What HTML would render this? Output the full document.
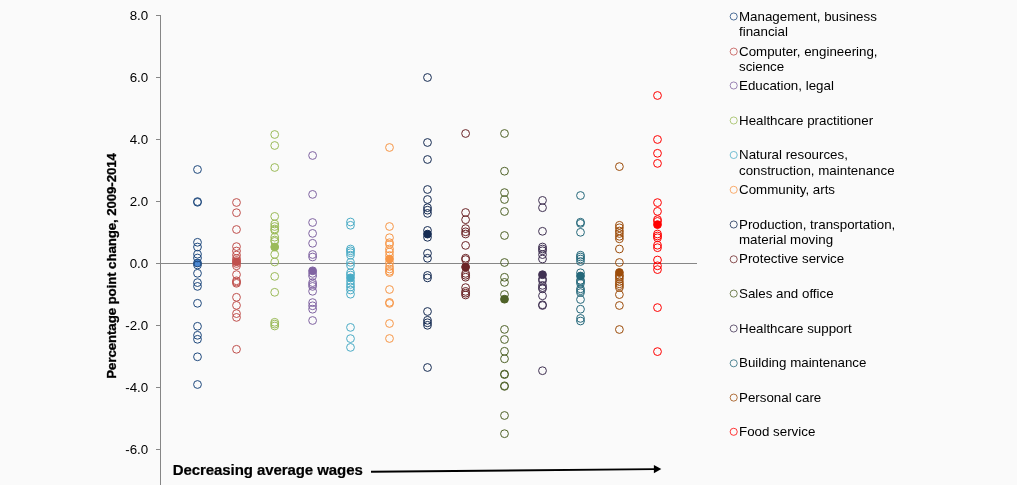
<!DOCTYPE html>
<html lang="en"><head><meta charset="utf-8"><title>Percentage point change, 2009-2014</title>
<style>html,body{margin:0;padding:0;background:#fafafa;}body{width:1017px;height:485px;overflow:hidden;}svg{display:block;}text{font-family:"Liberation Sans",sans-serif;fill:#000;}.t{font-size:13.33px;}.b{font-weight:bold;}</style></head><body>
<svg width="1017" height="485" viewBox="0 0 1017 485">
<rect width="1017" height="485" fill="#fafafa"/>
<g stroke="#868686" stroke-width="1" fill="none" shape-rendering="crispEdges">
<line x1="160.5" y1="15" x2="160.5" y2="485"/>
<line x1="156" y1="15.5" x2="161" y2="15.5"/>
<line x1="156" y1="77.5" x2="161" y2="77.5"/>
<line x1="156" y1="139.5" x2="161" y2="139.5"/>
<line x1="156" y1="201.5" x2="161" y2="201.5"/>
<line x1="156" y1="263.5" x2="161" y2="263.5"/>
<line x1="156" y1="325.5" x2="161" y2="325.5"/>
<line x1="156" y1="387.5" x2="161" y2="387.5"/>
<line x1="156" y1="449.5" x2="161" y2="449.5"/>
<line x1="160" y1="263.5" x2="697" y2="263.5"/>
</g>
<g class="t" text-anchor="end">
<text x="148.2" y="19.5">8.0</text>
<text x="148.2" y="81.5">6.0</text>
<text x="148.2" y="143.5">4.0</text>
<text x="148.2" y="205.5">2.0</text>
<text x="148.2" y="267.5">0.0</text>
<text x="148.2" y="329.5">-2.0</text>
<text x="148.2" y="391.5">-4.0</text>
<text x="148.2" y="453.5">-6.0</text>
</g>
<text class="t b" style="letter-spacing:-0.12px" stroke="#000" stroke-width="0.3" transform="translate(116.0,378.7) rotate(-90)">Percentage point change, 2009-2014</text>
<text class="b" x="172.8" y="474.9" stroke="#000" stroke-width="0.2" style="font-size:15px;letter-spacing:-0.08px">Decreasing average wages</text>
<line x1="371" y1="471.7" x2="655" y2="469.15" stroke="#000" stroke-width="1.9"/>
<polygon points="653.9,465 661.3,469.1 653.9,473.2" fill="#000"/>
<g fill="none" stroke="#1f497d" stroke-width="1.0">
<circle cx="197.5" cy="263.0" r="3.9" fill="#4c88d2"/>
<circle cx="197.5" cy="169.5" r="3.9"/>
<circle cx="197.5" cy="201.6" r="3.9"/>
<circle cx="197.5" cy="202.3" r="3.9"/>
<circle cx="197.5" cy="242.3" r="3.9"/>
<circle cx="197.5" cy="247.0" r="3.9"/>
<circle cx="197.5" cy="254.2" r="3.9"/>
<circle cx="197.5" cy="258.0" r="3.9"/>
<circle cx="197.5" cy="265.0" r="3.9"/>
<circle cx="197.5" cy="273.3" r="3.9"/>
<circle cx="197.5" cy="282.6" r="3.9"/>
<circle cx="197.5" cy="286.4" r="3.9"/>
<circle cx="197.5" cy="303.3" r="3.9"/>
<circle cx="197.5" cy="326.3" r="3.9"/>
<circle cx="197.5" cy="335.3" r="3.9"/>
<circle cx="197.5" cy="339.3" r="3.9"/>
<circle cx="197.5" cy="356.8" r="3.9"/>
<circle cx="197.5" cy="384.5" r="3.9"/>
</g>
<g fill="none" stroke="#c0504d" stroke-width="1.0">
<circle cx="236.5" cy="261.8" r="3.9" fill="#c0504d"/>
<circle cx="236.5" cy="202.5" r="3.9"/>
<circle cx="236.5" cy="212.7" r="3.9"/>
<circle cx="236.5" cy="229.5" r="3.9"/>
<circle cx="236.5" cy="246.6" r="3.9"/>
<circle cx="236.5" cy="251.0" r="3.9"/>
<circle cx="236.5" cy="255.1" r="3.9"/>
<circle cx="236.5" cy="258.5" r="3.9"/>
<circle cx="236.5" cy="260.5" r="3.9"/>
<circle cx="236.5" cy="263.5" r="3.9"/>
<circle cx="236.5" cy="265.8" r="3.9"/>
<circle cx="236.5" cy="274.6" r="3.9"/>
<circle cx="236.5" cy="280.8" r="3.9"/>
<circle cx="236.5" cy="282.1" r="3.9"/>
<circle cx="236.5" cy="283.3" r="3.9"/>
<circle cx="236.5" cy="297.3" r="3.9"/>
<circle cx="236.5" cy="305.4" r="3.9"/>
<circle cx="236.5" cy="313.6" r="3.9"/>
<circle cx="236.5" cy="317.4" r="3.9"/>
<circle cx="236.5" cy="349.3" r="3.9"/>
</g>
<g fill="none" stroke="#9bbb59" stroke-width="1.0">
<circle cx="274.7" cy="247.0" r="3.9" fill="#9bbb59"/>
<circle cx="274.7" cy="134.5" r="3.9"/>
<circle cx="274.7" cy="145.5" r="3.9"/>
<circle cx="274.7" cy="167.5" r="3.9"/>
<circle cx="274.7" cy="216.4" r="3.9"/>
<circle cx="274.7" cy="224.0" r="3.9"/>
<circle cx="274.7" cy="226.5" r="3.9"/>
<circle cx="274.7" cy="229.0" r="3.9"/>
<circle cx="274.7" cy="230.2" r="3.9"/>
<circle cx="274.7" cy="237.2" r="3.9"/>
<circle cx="274.7" cy="240.0" r="3.9"/>
<circle cx="274.7" cy="241.4" r="3.9"/>
<circle cx="274.7" cy="254.4" r="3.9"/>
<circle cx="274.7" cy="262.0" r="3.9"/>
<circle cx="274.7" cy="276.4" r="3.9"/>
<circle cx="274.7" cy="292.3" r="3.9"/>
<circle cx="274.7" cy="322.3" r="3.9"/>
<circle cx="274.7" cy="324.1" r="3.9"/>
<circle cx="274.7" cy="326.0" r="3.9"/>
</g>
<g fill="none" stroke="#8064a2" stroke-width="1.0">
<circle cx="312.6" cy="270.8" r="3.9" fill="#8064a2"/>
<circle cx="312.6" cy="155.5" r="3.9"/>
<circle cx="312.6" cy="194.4" r="3.9"/>
<circle cx="312.6" cy="222.5" r="3.9"/>
<circle cx="312.6" cy="233.4" r="3.9"/>
<circle cx="312.6" cy="243.3" r="3.9"/>
<circle cx="312.6" cy="254.5" r="3.9"/>
<circle cx="312.6" cy="257.0" r="3.9"/>
<circle cx="312.6" cy="273.4" r="3.9"/>
<circle cx="312.6" cy="276.0" r="3.9"/>
<circle cx="312.6" cy="282.6" r="3.9"/>
<circle cx="312.6" cy="284.5" r="3.9"/>
<circle cx="312.6" cy="286.4" r="3.9"/>
<circle cx="312.6" cy="291.3" r="3.9"/>
<circle cx="312.6" cy="302.6" r="3.9"/>
<circle cx="312.6" cy="305.8" r="3.9"/>
<circle cx="312.6" cy="309.2" r="3.9"/>
<circle cx="312.6" cy="320.5" r="3.9"/>
</g>
<g fill="none" stroke="#4bacc6" stroke-width="1.0">
<circle cx="350.5" cy="277.8" r="3.9" fill="#4bacc6"/>
<circle cx="350.5" cy="222.0" r="3.9"/>
<circle cx="350.5" cy="225.3" r="3.9"/>
<circle cx="350.5" cy="249.0" r="3.9"/>
<circle cx="350.5" cy="250.8" r="3.9"/>
<circle cx="350.5" cy="252.7" r="3.9"/>
<circle cx="350.5" cy="255.2" r="3.9"/>
<circle cx="350.5" cy="262.4" r="3.9"/>
<circle cx="350.5" cy="265.4" r="3.9"/>
<circle cx="350.5" cy="272.8" r="3.9"/>
<circle cx="350.5" cy="275.0" r="3.9"/>
<circle cx="350.5" cy="281.2" r="3.9"/>
<circle cx="350.5" cy="284.4" r="3.9"/>
<circle cx="350.5" cy="287.0" r="3.9"/>
<circle cx="350.5" cy="290.0" r="3.9"/>
<circle cx="350.5" cy="294.2" r="3.9"/>
<circle cx="350.5" cy="327.4" r="3.9"/>
<circle cx="350.5" cy="338.6" r="3.9"/>
<circle cx="350.5" cy="347.4" r="3.9"/>
</g>
<g fill="none" stroke="#f79646" stroke-width="1.0">
<circle cx="389.5" cy="259.0" r="3.9" fill="#f79646"/>
<circle cx="389.5" cy="147.5" r="3.9"/>
<circle cx="389.5" cy="226.5" r="3.9"/>
<circle cx="389.5" cy="237.7" r="3.9"/>
<circle cx="389.5" cy="242.7" r="3.9"/>
<circle cx="389.5" cy="244.4" r="3.9"/>
<circle cx="389.5" cy="249.0" r="3.9"/>
<circle cx="389.5" cy="252.0" r="3.9"/>
<circle cx="389.5" cy="255.5" r="3.9"/>
<circle cx="389.5" cy="262.7" r="3.9"/>
<circle cx="389.5" cy="266.5" r="3.9"/>
<circle cx="389.5" cy="269.0" r="3.9"/>
<circle cx="389.5" cy="271.3" r="3.9"/>
<circle cx="389.5" cy="272.6" r="3.9"/>
<circle cx="389.5" cy="289.5" r="3.9"/>
<circle cx="389.5" cy="302.4" r="3.9"/>
<circle cx="389.5" cy="303.4" r="3.9"/>
<circle cx="389.5" cy="323.5" r="3.9"/>
<circle cx="389.5" cy="338.5" r="3.9"/>
</g>
<g fill="none" stroke="#152b52" stroke-width="1.0">
<circle cx="427.5" cy="234.1" r="3.9" fill="#152b52"/>
<circle cx="427.5" cy="77.5" r="3.9"/>
<circle cx="427.5" cy="142.5" r="3.9"/>
<circle cx="427.5" cy="159.5" r="3.9"/>
<circle cx="427.5" cy="189.5" r="3.9"/>
<circle cx="427.5" cy="199.5" r="3.9"/>
<circle cx="427.5" cy="207.7" r="3.9"/>
<circle cx="427.5" cy="210.2" r="3.9"/>
<circle cx="427.5" cy="213.4" r="3.9"/>
<circle cx="427.5" cy="230.4" r="3.9"/>
<circle cx="427.5" cy="237.3" r="3.9"/>
<circle cx="427.5" cy="253.3" r="3.9"/>
<circle cx="427.5" cy="258.3" r="3.9"/>
<circle cx="427.5" cy="275.4" r="3.9"/>
<circle cx="427.5" cy="277.9" r="3.9"/>
<circle cx="427.5" cy="311.5" r="3.9"/>
<circle cx="427.5" cy="320.3" r="3.9"/>
<circle cx="427.5" cy="322.8" r="3.9"/>
<circle cx="427.5" cy="325.3" r="3.9"/>
<circle cx="427.5" cy="367.5" r="3.9"/>
</g>
<g fill="none" stroke="#6b2427" stroke-width="1.0">
<circle cx="465.6" cy="267.0" r="3.9" fill="#6b2427"/>
<circle cx="465.6" cy="133.5" r="3.9"/>
<circle cx="465.6" cy="212.5" r="3.9"/>
<circle cx="465.6" cy="219.7" r="3.9"/>
<circle cx="465.6" cy="228.6" r="3.9"/>
<circle cx="465.6" cy="231.8" r="3.9"/>
<circle cx="465.6" cy="234.0" r="3.9"/>
<circle cx="465.6" cy="245.4" r="3.9"/>
<circle cx="465.6" cy="258.2" r="3.9"/>
<circle cx="465.6" cy="259.6" r="3.9"/>
<circle cx="465.6" cy="273.4" r="3.9"/>
<circle cx="465.6" cy="275.3" r="3.9"/>
<circle cx="465.6" cy="277.2" r="3.9"/>
<circle cx="465.6" cy="287.6" r="3.9"/>
<circle cx="465.6" cy="291.4" r="3.9"/>
<circle cx="465.6" cy="293.2" r="3.9"/>
<circle cx="465.6" cy="295.0" r="3.9"/>
</g>
<g fill="none" stroke="#4f6228" stroke-width="1.0">
<circle cx="504.5" cy="299.2" r="3.9" fill="#4f6228"/>
<circle cx="504.5" cy="133.5" r="3.9"/>
<circle cx="504.5" cy="171.2" r="3.9"/>
<circle cx="504.5" cy="192.6" r="3.9"/>
<circle cx="504.5" cy="199.5" r="3.9"/>
<circle cx="504.5" cy="211.5" r="3.9"/>
<circle cx="504.5" cy="235.5" r="3.9"/>
<circle cx="504.5" cy="262.5" r="3.9"/>
<circle cx="504.5" cy="277.3" r="3.9"/>
<circle cx="504.5" cy="282.4" r="3.9"/>
<circle cx="504.5" cy="294.5" r="3.9"/>
<circle cx="504.5" cy="329.4" r="3.9"/>
<circle cx="504.5" cy="339.5" r="3.9"/>
<circle cx="504.5" cy="351.3" r="3.9"/>
<circle cx="504.5" cy="358.8" r="3.9"/>
<circle cx="504.5" cy="374.0" r="3.9"/>
<circle cx="504.5" cy="374.6" r="3.9"/>
<circle cx="504.5" cy="385.8" r="3.9"/>
<circle cx="504.5" cy="386.4" r="3.9"/>
<circle cx="504.5" cy="415.5" r="3.9"/>
<circle cx="504.5" cy="433.7" r="3.9"/>
</g>
<g fill="none" stroke="#403152" stroke-width="1.0">
<circle cx="542.5" cy="274.7" r="3.9" fill="#403152"/>
<circle cx="542.5" cy="200.4" r="3.9"/>
<circle cx="542.5" cy="207.7" r="3.9"/>
<circle cx="542.5" cy="231.3" r="3.9"/>
<circle cx="542.5" cy="247.0" r="3.9"/>
<circle cx="542.5" cy="249.0" r="3.9"/>
<circle cx="542.5" cy="250.8" r="3.9"/>
<circle cx="542.5" cy="254.6" r="3.9"/>
<circle cx="542.5" cy="259.0" r="3.9"/>
<circle cx="542.5" cy="279.0" r="3.9"/>
<circle cx="542.5" cy="280.7" r="3.9"/>
<circle cx="542.5" cy="285.4" r="3.9"/>
<circle cx="542.5" cy="287.6" r="3.9"/>
<circle cx="542.5" cy="288.8" r="3.9"/>
<circle cx="542.5" cy="295.8" r="3.9"/>
<circle cx="542.5" cy="304.8" r="3.9"/>
<circle cx="542.5" cy="305.5" r="3.9"/>
<circle cx="542.5" cy="370.7" r="3.9"/>
</g>
<g fill="none" stroke="#25687a" stroke-width="1.0">
<circle cx="580.5" cy="276.0" r="3.9" fill="#25687a"/>
<circle cx="580.5" cy="195.5" r="3.9"/>
<circle cx="580.5" cy="222.2" r="3.9"/>
<circle cx="580.5" cy="223.4" r="3.9"/>
<circle cx="580.5" cy="232.3" r="3.9"/>
<circle cx="580.5" cy="255.2" r="3.9"/>
<circle cx="580.5" cy="257.0" r="3.9"/>
<circle cx="580.5" cy="259.0" r="3.9"/>
<circle cx="580.5" cy="261.5" r="3.9"/>
<circle cx="580.5" cy="272.8" r="3.9"/>
<circle cx="580.5" cy="280.3" r="3.9"/>
<circle cx="580.5" cy="281.5" r="3.9"/>
<circle cx="580.5" cy="283.4" r="3.9"/>
<circle cx="580.5" cy="288.8" r="3.9"/>
<circle cx="580.5" cy="290.7" r="3.9"/>
<circle cx="580.5" cy="292.6" r="3.9"/>
<circle cx="580.5" cy="299.5" r="3.9"/>
<circle cx="580.5" cy="309.2" r="3.9"/>
<circle cx="580.5" cy="318.4" r="3.9"/>
<circle cx="580.5" cy="321.0" r="3.9"/>
</g>
<g fill="none" stroke="#9c4c0a" stroke-width="1.0">
<circle cx="619.4" cy="272.5" r="3.9" fill="#9c4c0a"/>
<circle cx="619.4" cy="166.6" r="3.9"/>
<circle cx="619.4" cy="225.3" r="3.9"/>
<circle cx="619.4" cy="227.8" r="3.9"/>
<circle cx="619.4" cy="231.0" r="3.9"/>
<circle cx="619.4" cy="233.5" r="3.9"/>
<circle cx="619.4" cy="236.3" r="3.9"/>
<circle cx="619.4" cy="238.8" r="3.9"/>
<circle cx="619.4" cy="249.0" r="3.9"/>
<circle cx="619.4" cy="262.5" r="3.9"/>
<circle cx="619.4" cy="275.3" r="3.9"/>
<circle cx="619.4" cy="276.5" r="3.9"/>
<circle cx="619.4" cy="278.8" r="3.9"/>
<circle cx="619.4" cy="281.6" r="3.9"/>
<circle cx="619.4" cy="283.8" r="3.9"/>
<circle cx="619.4" cy="285.7" r="3.9"/>
<circle cx="619.4" cy="287.6" r="3.9"/>
<circle cx="619.4" cy="294.6" r="3.9"/>
<circle cx="619.4" cy="305.5" r="3.9"/>
<circle cx="619.4" cy="329.5" r="3.9"/>
</g>
<g fill="none" stroke="#ff0000" stroke-width="1.0">
<circle cx="657.5" cy="224.6" r="3.9" fill="#ff0000"/>
<circle cx="657.5" cy="95.5" r="3.9"/>
<circle cx="657.5" cy="139.5" r="3.9"/>
<circle cx="657.5" cy="153.3" r="3.9"/>
<circle cx="657.5" cy="163.4" r="3.9"/>
<circle cx="657.5" cy="202.6" r="3.9"/>
<circle cx="657.5" cy="211.4" r="3.9"/>
<circle cx="657.5" cy="219.6" r="3.9"/>
<circle cx="657.5" cy="221.4" r="3.9"/>
<circle cx="657.5" cy="234.0" r="3.9"/>
<circle cx="657.5" cy="236.0" r="3.9"/>
<circle cx="657.5" cy="237.8" r="3.9"/>
<circle cx="657.5" cy="245.2" r="3.9"/>
<circle cx="657.5" cy="247.7" r="3.9"/>
<circle cx="657.5" cy="260.0" r="3.9"/>
<circle cx="657.5" cy="265.8" r="3.9"/>
<circle cx="657.5" cy="269.6" r="3.9"/>
<circle cx="657.5" cy="307.6" r="3.9"/>
<circle cx="657.5" cy="351.6" r="3.9"/>
</g>
<circle cx="733.7" cy="16.5" r="3.55" fill="none" stroke="#1f497d" stroke-width="1" stroke-opacity="0.78"/>
<text class="t" x="739" y="21.0">Management, business</text>
<text class="t" x="739" y="36.0">financial</text>
<circle cx="733.7" cy="51.6" r="3.55" fill="none" stroke="#c0504d" stroke-width="1" stroke-opacity="0.78"/>
<text class="t" x="739" y="55.6">Computer, engineering,</text>
<text class="t" x="739" y="71.0">science</text>
<circle cx="733.7" cy="85.5" r="3.55" fill="none" stroke="#8064a2" stroke-width="1" stroke-opacity="0.78"/>
<text class="t" x="739" y="89.6">Education, legal</text>
<circle cx="733.7" cy="120.5" r="3.55" fill="none" stroke="#9bbb59" stroke-width="1" stroke-opacity="0.78"/>
<text class="t" x="739" y="125.0">Healthcare practitioner</text>
<circle cx="733.7" cy="155.0" r="3.55" fill="none" stroke="#4bacc6" stroke-width="1" stroke-opacity="0.78"/>
<text class="t" x="739" y="159.0">Natural resources,</text>
<text class="t" x="739" y="174.7">construction, maintenance</text>
<circle cx="733.7" cy="189.8" r="3.55" fill="none" stroke="#f79646" stroke-width="1" stroke-opacity="0.78"/>
<text class="t" x="739" y="194.0">Community, arts</text>
<circle cx="733.7" cy="224.5" r="3.55" fill="none" stroke="#152b52" stroke-width="1" stroke-opacity="0.78"/>
<text class="t" x="739" y="228.8">Production, transportation,</text>
<text class="t" x="739" y="243.8">material moving</text>
<circle cx="733.7" cy="259.3" r="3.55" fill="none" stroke="#6b2427" stroke-width="1" stroke-opacity="0.78"/>
<text class="t" x="739" y="262.9">Protective service</text>
<circle cx="733.7" cy="293.6" r="3.55" fill="none" stroke="#4f6228" stroke-width="1" stroke-opacity="0.78"/>
<text class="t" x="739" y="297.6">Sales and office</text>
<circle cx="733.7" cy="328.5" r="3.55" fill="none" stroke="#403152" stroke-width="1" stroke-opacity="0.78"/>
<text class="t" x="739" y="333.0">Healthcare support</text>
<circle cx="733.7" cy="363.3" r="3.55" fill="none" stroke="#25687a" stroke-width="1" stroke-opacity="0.78"/>
<text class="t" x="739" y="366.9">Building maintenance</text>
<circle cx="733.7" cy="397.6" r="3.55" fill="none" stroke="#9c4c0a" stroke-width="1" stroke-opacity="0.78"/>
<text class="t" x="739" y="401.6">Personal care</text>
<circle cx="733.7" cy="431.8" r="3.55" fill="none" stroke="#ff0000" stroke-width="1" stroke-opacity="0.78"/>
<text class="t" x="739" y="436.0">Food service</text>
</svg></body></html>
